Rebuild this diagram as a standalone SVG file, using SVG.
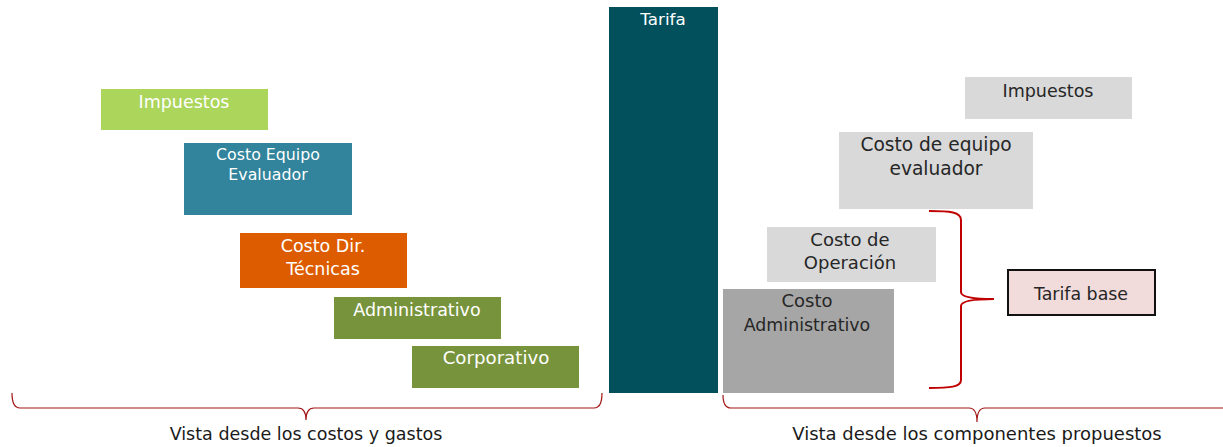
<svg xmlns="http://www.w3.org/2000/svg" width="1223" height="447" viewBox="0 0 1223 447">
<style>
text{font-family:"DejaVu Sans","Liberation Sans",sans-serif;text-anchor:middle}
.w{fill:#ffffff;font-size:17.5px}
.d{fill:#262626;font-size:18px}
.lbl{fill:#1a1a1a;font-size:17.5px}
.brace{fill:none;stroke:#a31515;stroke-width:1.2}
.brace2{fill:none;stroke:#c00000;stroke-width:2}
</style>
<rect width="1223" height="447" fill="#ffffff"/>
<g id="left-impuestos"><rect x="101" y="89" width="167" height="41" fill="#acd55b"/><text class="w" x="184" y="108">Impuestos</text></g>
<g id="left-equipo"><rect x="184" y="143" width="168" height="72" fill="#31849b"/><text class="w" style="font-size:15.8px" x="268" y="160">Costo Equipo</text><text class="w" style="font-size:15.8px" x="268" y="180">Evaluador</text></g>
<g id="left-tecnicas"><rect x="240" y="233" width="167" height="55" fill="#de5c00"/><text class="w" x="323" y="252">Costo Dir.</text><text class="w" x="323" y="275">Técnicas</text></g>
<g id="left-admin"><rect x="334" y="297" width="167" height="42" fill="#77933c"/><text class="w" x="417" y="316">Administrativo</text></g>
<g id="left-corp"><rect x="412" y="346" width="167" height="42" fill="#77933c"/><text class="w" style="font-size:18.2px" x="496" y="364">Corporativo</text></g>
<g id="tarifa"><rect x="609" y="7" width="109" height="386" fill="#02505c"/><text class="w" style="font-size:16.7px" x="663" y="25">Tarifa</text></g>
<g id="right-impuestos"><rect x="965" y="77" width="167" height="42" fill="#d9d9d9"/><text class="d" style="font-size:17.5px" x="1048" y="97">Impuestos</text></g>
<g id="right-equipo"><rect x="839" y="132" width="194" height="77" fill="#d9d9d9"/><text class="d" style="font-size:18.6px" x="936" y="151">Costo de equipo</text><text class="d" style="font-size:18.6px" x="936" y="175">evaluador</text></g>
<g id="right-operacion"><rect x="767" y="227" width="169" height="55" fill="#d9d9d9"/><text class="d" x="850" y="246">Costo de</text><text class="d" x="850" y="269">Operación</text></g>
<g id="right-admin"><rect x="723" y="289" width="171" height="104" fill="#a6a6a6"/><text class="d" x="807" y="307">Costo</text><text class="d" style="font-size:17.4px" x="807" y="331">Administrativo</text></g>
<g id="tarifa-base"><rect x="1008" y="270" width="147" height="45" fill="#f2dcdb" stroke="#111111" stroke-width="2"/><text class="d" style="font-size:17.4px" x="1081" y="300">Tarifa base</text></g>
<g id="connectors">
<path class="brace" d="M12,393 Q12,408 20,408 L298,408 Q306,408 306,420 Q306,408 314,408 L594,408 Q602,408 602,393"/>
<path class="brace" d="M723,395 Q723,408 731,408 L969,408 Q977,408 977,422 Q977,408 985,408 L1223,408"/>
<path class="brace2" d="M929,211 C950,211 961,212 961,220 L961,292 Q961,299 994,299 Q961,299 961,306 L961,380 C961,387 950,388 929,388"/>
</g>
<text class="lbl" x="306" y="440">Vista desde los costos y gastos</text>
<text class="lbl" style="font-size:18px" x="977" y="440">Vista desde los componentes propuestos</text>
</svg>
